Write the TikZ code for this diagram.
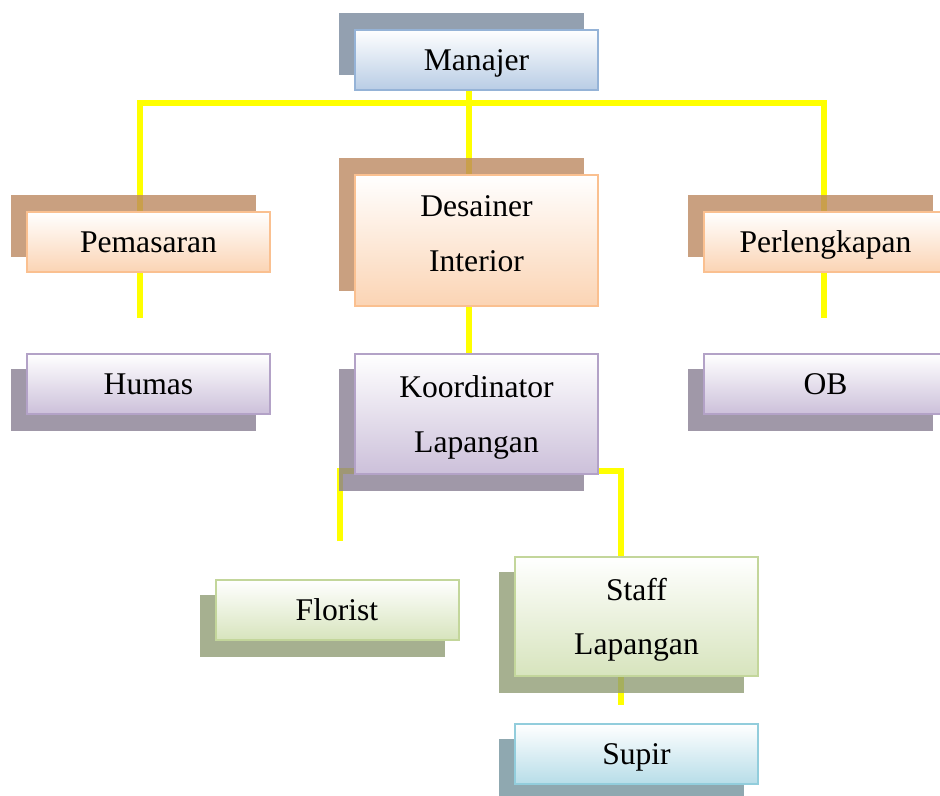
\documentclass[tikz,border=0pt]{standalone}
\usepackage{fontspec}
\setmainfont{Liberation Serif}
\pgfdeclarelayer{lines}
\pgfdeclarelayer{shadows}
\pgfsetlayers{lines,shadows,main}
\definecolor{bBorder}{HTML}{95B3D7}\definecolor{bFill}{HTML}{B9CDE5}\definecolor{bShadow}{HTML}{78889C}
\definecolor{oBorder}{HTML}{FAC090}\definecolor{oFill}{HTML}{FBD4B4}\definecolor{oShadow}{HTML}{BC8860}
\definecolor{pBorder}{HTML}{B3A2C7}\definecolor{pFill}{HTML}{CCC0DA}\definecolor{pShadow}{HTML}{887E92}
\definecolor{gBorder}{HTML}{C3D69B}\definecolor{gFill}{HTML}{D7E4BD}\definecolor{gShadow}{HTML}{909C74}
\definecolor{cBorder}{HTML}{92CDDC}\definecolor{cFill}{HTML}{B7DDE8}\definecolor{cShadow}{HTML}{73929C}
\definecolor{lineYellow}{HTML}{FFFF00}
\tikzset{
  box/.style={rectangle, minimum width=243*0.75pt, minimum height=60*0.75pt, inner sep=0pt,
    line width=1.5pt, align=center, font=\fontsize{23.7}{41}\selectfont, text=black, shading=axis, top color=white},
  oneline/.style={text height=15.8pt, text depth=0pt},
  bluebox/.style={box, draw=bBorder, bottom color=bFill},
  orangebox/.style={box, draw=oBorder, bottom color=oFill},
  purplebox/.style={box, draw=pBorder, bottom color=pFill},
  greenbox/.style={box, draw=gBorder, bottom color=gFill},
  cyanbox/.style={box, draw=cBorder, bottom color=cFill},
  tall/.style={minimum height=#1*0.75pt},
  conn/.style={draw=lineYellow, line width=4.5pt, line join=miter},
  shad/.style={fill opacity=0.8}
}
\begin{document}
\begin{tikzpicture}[x=0.75pt,y=-0.75pt]
\useasboundingbox (0,0) rectangle (940,796);
% nodes
\node[bluebox, oneline] (man) at (476.5,59.5) {Manajer};
\node[orangebox, oneline] (pem) at (148.5,242) {Pemasaran};
\node[orangebox, tall=131, text depth=10.5pt] (des) at (476.5,240.5) {Desainer\\Interior};
\node[orangebox, oneline] (per) at (825.5,242) {Perlengkapan};
\node[purplebox, oneline] (hum) at (148.5,384) {Humas};
\node[purplebox, tall=120, text depth=0pt] (koo) at (476.5,414) {Koordinator\\Lapangan};
\node[purplebox, oneline] (ob) at (825.5,384) {OB};
\node[greenbox, oneline] (flo) at (337,610) {Florist};
\node[greenbox, tall=119, text depth=0pt] (sta) at (636.5,616.5) {Staff\\Lapangan};
\node[cyanbox, oneline] (sup) at (636.5,754) {Supir};
% shadows
\begin{pgfonlayer}{shadows}
\foreach \n/\c in {man/bShadow, pem/oShadow, des/oShadow, per/oShadow}
  \fill[\c, shad] ([shift={(-15,-16)}]\n.south west) rectangle ([shift={(-15,-16)}]\n.north east);
\foreach \n/\c in {hum/pShadow, koo/pShadow, ob/pShadow, flo/gShadow, sta/gShadow, sup/cShadow}
  \fill[\c, shad] ([shift={(-15,16)}]\n.south west) rectangle ([shift={(-15,16)}]\n.north east);
\end{pgfonlayer}
% connectors
\coordinate (busL) at (140,103);
\coordinate (busR) at (824,103);
\coordinate (pemEnd) at (140,318);
\coordinate (perEnd) at (824,318);
\coordinate (kooL) at (340,471);
\coordinate (kooLend) at (340,541);
\coordinate (kooR) at (621,471);
\coordinate (staEnd) at (621,705);
\begin{pgfonlayer}{lines}
\draw[conn] (pemEnd) -- (busL) -- (busR) -- (perEnd);
\draw[conn] ([xshift=-5.5]man.south) -- ([xshift=-5.5]koo.north);
\draw[conn] (kooLend) -- (kooL) -- (kooR) -- (staEnd);
\end{pgfonlayer}
\end{tikzpicture}
\end{document}
